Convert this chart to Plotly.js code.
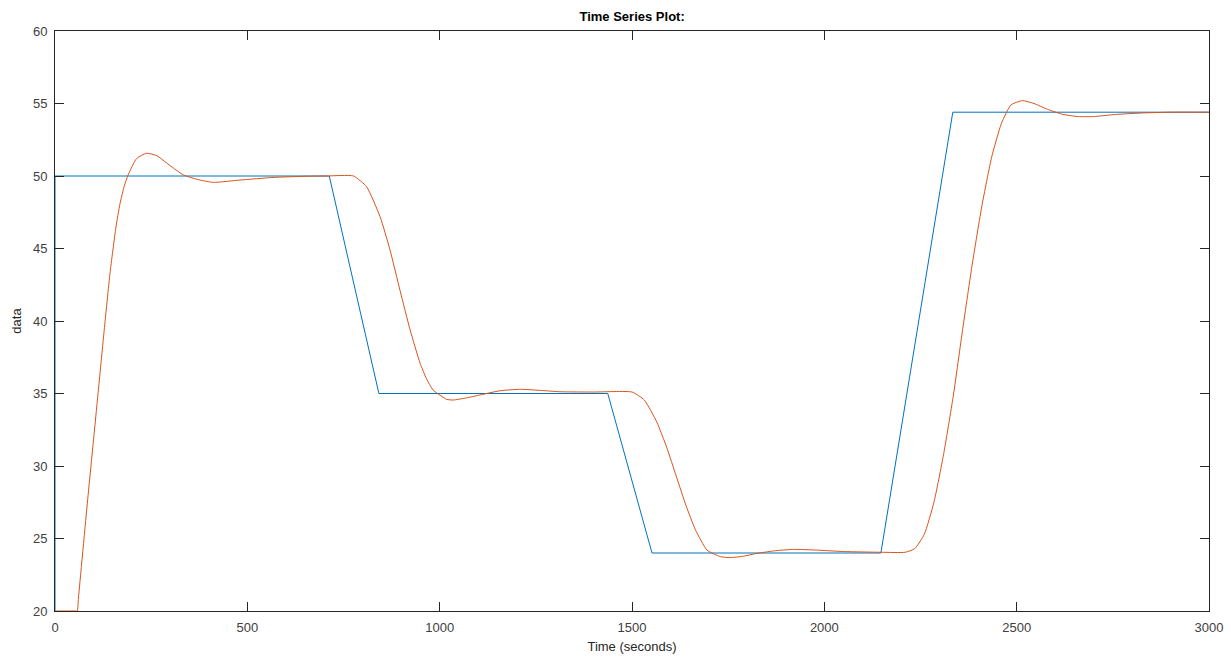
<!DOCTYPE html>
<html>
<head>
<meta charset="utf-8">
<script src="https://cdn.plot.ly/plotly-3.0.1.min.js"></script>
<style>
html,body{margin:0;padding:0;background:#fff;}
#chart{width:1231px;height:660px;}
</style>
</head>
<body>
<div id="chart"></div>
<script>
// Reference (setpoint) series
var refTime = [0, 0, 713, 842, 1437, 1552, 2147, 2334, 3000];
var refData = [20, 50, 50, 35, 35, 24, 24, 54.4, 54.4];

// Response series
var respTime = [0, 56, 58, 61, 85, 113, 128, 143, 158, 169, 180, 190, 212, 238, 265, 290, 334, 377, 412, 481, 567, 650, 706, 776,
  810, 845, 871, 897, 923, 949, 966, 983, 1018, 1035, 1070, 1105, 1157, 1209, 1260, 1313, 1400, 1500,
  1532, 1565, 1590, 1615, 1640, 1665, 1695, 1730, 1755, 1790, 1820, 1870, 1920, 1980, 2050, 2150, 2210,
  2235, 2260, 2285, 2310, 2335, 2360, 2385, 2410, 2435, 2460, 2485, 2515, 2545, 2580, 2620, 2660, 2700, 2760, 2830, 2900, 3000];
var respData = [20, 20, 20, 20.9, 27.7, 35.3, 39.4, 43.3, 46.4, 48.1, 49.3, 50.07, 51.2, 51.57, 51.4, 50.9, 50.07, 49.72, 49.56, 49.72, 49.9, 49.98, 50, 50,
  49.26, 47.2, 44.9, 42.1, 39.4, 37.1, 36.0, 35.24, 34.6, 34.55, 34.7, 34.9, 35.19, 35.29, 35.22, 35.12, 35.1, 35.1,
  34.55, 33.0, 31.3, 29.3, 27.3, 25.6, 24.2, 23.75, 23.68, 23.78, 23.95, 24.15, 24.25, 24.2, 24.1, 24.05, 24.05,
  24.3, 25.3, 27.5, 30.8, 34.8, 39.5, 44.0, 48.0, 51.3, 53.6, 54.9, 55.2, 55.0, 54.6, 54.25, 54.1, 54.1, 54.25, 54.35, 54.4, 54.4];

var xTicks = [0, 500, 1000, 1500, 2000, 2500, 3000];
var yTicks = [20, 25, 30, 35, 40, 45, 50, 55, 60];

var traces = [
  {x: refTime, y: refData, type: 'scatter', mode: 'lines', line: {color: '#0072BD', width: 1}, hoverinfo: 'x+y'},
  {x: respTime, y: respData, type: 'scatter', mode: 'lines', line: {color: '#D95319', width: 1, shape: 'spline', smoothing: 0.5}, hoverinfo: 'x+y'}
];

var axisCommon = {
  showline: true, linecolor: '#262626', linewidth: 1, mirror: 'allticks',
  ticks: 'inside', ticklen: 9, tickwidth: 1, tickcolor: '#262626',
  showgrid: false, zeroline: false,
  tickfont: {family: 'Liberation Sans, Arial, sans-serif', size: 13, color: '#404040'}
};

var layout = {
  width: 1231, height: 660,
  paper_bgcolor: '#ffffff', plot_bgcolor: '#ffffff',
  margin: {l: 55, r: 22, t: 31, b: 49},
  showlegend: false,
  title: {text: '<b>Time Series Plot:</b>', x: 0.5135, xanchor: 'center', y: 0.975, yanchor: 'middle',
    font: {family: 'Liberation Sans, Arial, sans-serif', size: 13, color: '#000000'}},
  xaxis: Object.assign({}, axisCommon, {
    range: [0, 3000], tickvals: xTicks, ticktext: xTicks.map(String), ticklabelstandoff: 4,
    title: {text: 'Time (seconds)', standoff: 8, font: {family: 'Liberation Sans, Arial, sans-serif', size: 13, color: '#262626'}}
  }),
  yaxis: Object.assign({}, axisCommon, {
    range: [20, 60], tickvals: yTicks, ticktext: yTicks.map(String), ticklabelstandoff: 4,
    title: {text: 'data', standoff: 8, font: {family: 'Liberation Sans, Arial, sans-serif', size: 13, color: '#262626'}}
  })
};

Plotly.newPlot('chart', traces, layout, {displayModeBar: false, staticPlot: true});
</script>
</body>
</html>
